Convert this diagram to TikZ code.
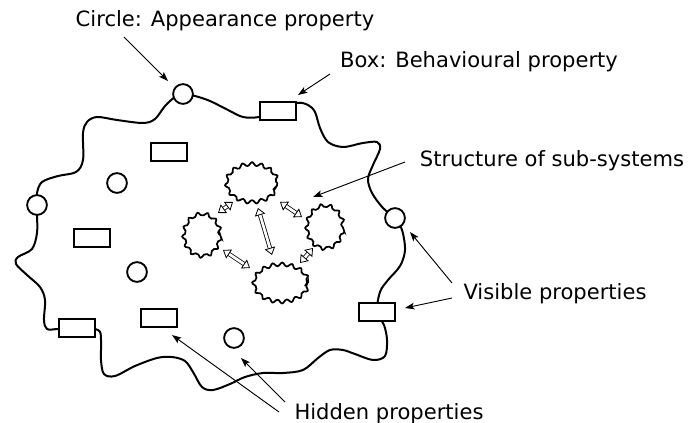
\documentclass[tikz,border=0pt]{standalone}
\usepackage{fontspec}
\setmainfont{DejaVu Sans}
\usetikzlibrary{arrows.meta,shapes.geometric,decorations.pathmorphing}
\begin{document}
\begin{tikzpicture}[x=0.75pt,y=-0.75pt,
  prop/.style={draw, line width=1.4pt, fill=white, inner sep=0},
  circ/.style={prop, circle, minimum size=14.8pt},
  boxp/.style={prop, rectangle, minimum width=26.5pt, minimum height=13.8pt},
  sub/.style={draw, line width=1.3pt, ellipse, inner sep=0, rounded corners=1.5pt, decorate, decoration={zigzag, segment length=7pt, amplitude=2pt}},
  lab/.style={font=\fontsize{15.8}{18}\selectfont, inner sep=0, anchor=base},
  pointer/.style={line width=0.7pt, -{Stealth[length=7pt,width=5pt,inset=1.5pt]}},
  link/.style={draw=black, line width=0.6pt, double=white, double distance=2pt, {Triangle[length=5.5pt,width=8pt,fill=white]}-{Triangle[length=5.5pt,width=8pt,fill=white]}}
]
\useasboundingbox (0,0) rectangle (691,423);
% system boundary
\draw[line width=1.5pt] plot[smooth cycle, tension=0.55] coordinates {
 (183,94) (195,96) (210,101) (228,110) (243,117) (259,117) (278,111) (297,103)
 (308,105) (315,112) (320,128) (328,142) (343,147) (363,143) (377,142) (380,149)
 (373,165) (368,179) (372,193) (383,208) (395,218) (402,230) (405,250) (400,266)
 (388,280) (380,292) (377,312) (384,325) (387,340) (385,356) (373,360) (355,354)
 (343,350) (330,350) (318,358) (303,370) (283,373) (263,373) (245,377) (230,384)
 (213,390) (202,387) (193,372) (185,361) (172,357) (157,358) (135,366) (115,376)
 (104,374) (101,360) (101,340) (98,330) (77,328) (58,329) (47,329) (44,320)
 (45,300) (40,287) (27,275) (16,264) (18,257) (32,249) (37,233) (37,215)
 (37,205) (37,193) (42,182) (58,176) (76,172) (83,160) (83,133) (87,122)
 (97,117) (117,120) (143,123) (155,119) (165,106) (175,97)};
% properties
\node[circ] (c1) at (183,94) {};
\node[circ] (c2) at (37,205) {};
\node[circ] (c3) at (395,218) {};
\node[circ] (c4) at (117,183) {};
\node[circ] (c5) at (137,272) {};
\node[circ] (c6) at (234,338) {};
\node[boxp] (b1) at (278,111) {};
\node[boxp] (b2) at (77,328) {};
\node[boxp] (b3) at (377,312) {};
\node[boxp] (b4) at (169,152) {};
\node[boxp] (b5) at (92,238) {};
\node[boxp] (b6) at (159,318) {};
% sub-systems
\node[sub, minimum width=38pt, minimum height=28.5pt] (sT) at (252,183) {};
\node[sub, minimum width=27pt, minimum height=31.5pt] (sL) at (202,235) {};
\node[sub, minimum width=27pt, minimum height=32pt] (sR) at (325,227) {};
\node[sub, minimum width=40.5pt, minimum height=28pt] (sB) at (281,283) {};
% links between sub-systems
\coordinate (a1s) at (218,213); \coordinate (a1e) at (233,202);
\coordinate (a2s) at (280,202); \coordinate (a2e) at (302,217);
\coordinate (a3s) at (258,208); \coordinate (a3e) at (272,255);
\coordinate (a4s) at (223,250); \coordinate (a4e) at (250,268);
\coordinate (a5s) at (300,263); \coordinate (a5e) at (313,248);
\draw[link] (a1s) -- (a1e);
\draw[link] (a2s) -- (a2e);
\draw[link] (a3s) -- (a3e);
\draw[link] (a4s) -- (a4e);
\draw[link] (a5s) -- (a5e);
% labels
\node[lab] (lc) at (225,27) {Circle: Appearance property};
\node[lab] (lb) at (479,68) {Box: Behavioural property};
\node[lab] (ls) at (552,167) {Structure of sub-systems};
\node[lab] (lv) at (555,300) {Visible properties};
\node[lab] (lh) at (389,419) {Hidden properties};
% pointers
\coordinate (pc1) at (124,37); \coordinate (pc2) at (168,81);
\coordinate (pb1) at (330,74); \coordinate (pb2) at (298,95);
\coordinate (ps1) at (405,162); \coordinate (ps2) at (313,197);
\coordinate (pv1) at (452,283); \coordinate (pv2) at (410,232);
\coordinate (pv3) at (452,298); \coordinate (pv4) at (405,308);
\coordinate (ph1) at (279,412); \coordinate (ph2) at (172,335);
\coordinate (ph3) at (285,402); \coordinate (ph4) at (241,358);
\draw[pointer] (pc1) -- (pc2);
\draw[pointer] (pb1) -- (pb2);
\draw[pointer] (ps1) -- (ps2);
\draw[pointer] (pv1) -- (pv2);
\draw[pointer] (pv3) -- (pv4);
\draw[pointer] (ph1) -- (ph2);
\draw[pointer] (ph3) -- (ph4);
\end{tikzpicture}
\end{document}
